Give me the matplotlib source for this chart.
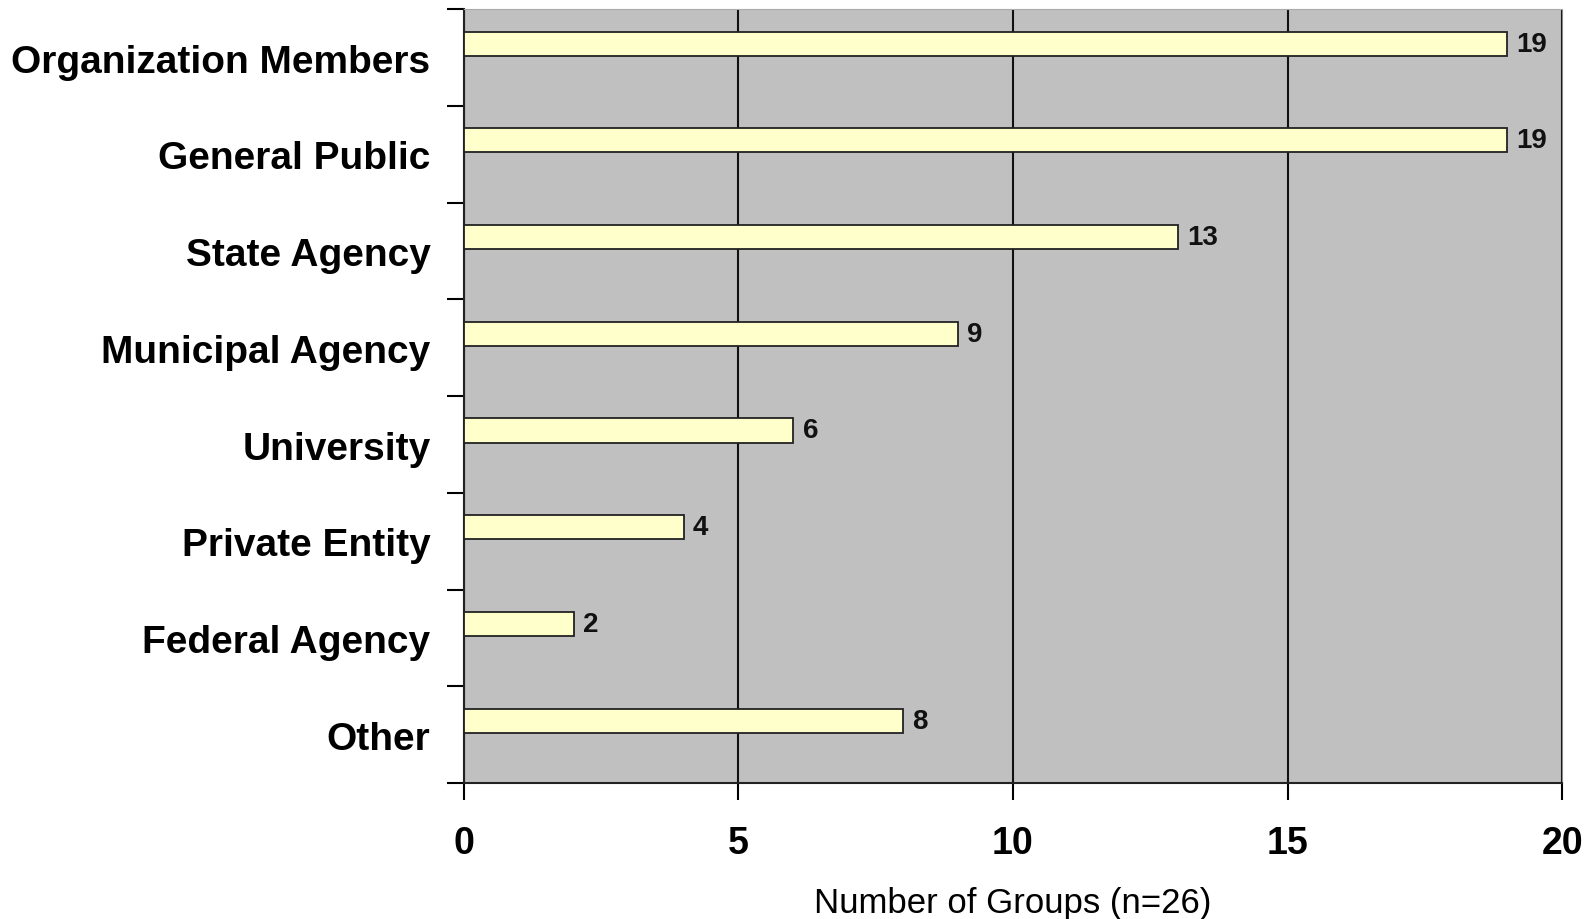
import matplotlib
matplotlib.use("Agg")
import matplotlib.pyplot as plt
import numpy as np

# Daten
categories = ['Organization Members', 'General Public', 'State Agency', 'Municipal Agency',
              'University', 'Private Entity', 'Federal Agency', 'Other']
counts = [19, 19, 13, 9, 6, 4, 2, 8]
xticks = [0, 5, 10, 15, 20]

plt.rcParams['font.family'] = ['Liberation Sans', 'DejaVu Sans']

fig = plt.figure(figsize=(15.94, 9.2), dpi=100)
ax = fig.add_axes([0.291, 0.1478, 0.689, 0.841])
ax.set_facecolor('#C0C0C0')

ypos = np.arange(len(categories))
# Balken sitzen etwas oberhalb der Kategoriemitte
bar_y = ypos - 0.145
ax.barh(bar_y, counts, height=0.25, color='#FFFFCC', edgecolor='#222222',
        linewidth=1.3, zorder=3)

for y, v in zip(bar_y, counts):
    ax.text(v + 0.17, y, str(v), va='center', ha='left', fontsize=20,
            fontweight='bold', color='#111111', zorder=4)

ax.set_xlim(0, 20)
ax.set_ylim(len(categories) - 0.5, -0.5)
ax.set_xticks(xticks)
ax.set_xticklabels([str(t) for t in xticks], fontsize=27, fontweight='bold')
ax.set_yticks([i - 0.5 for i in range(len(categories) + 1)])
ax.set_yticklabels([])
ax.set_yticks(ypos, minor=True)
ax.set_yticklabels(categories, minor=True, fontsize=28, fontweight='bold')
ax.tick_params(axis='y', which='minor', length=0, pad=24)
ax.tick_params(axis='y', which='major', direction='out', length=12, width=1.5)
ax.tick_params(axis='x', direction='out', length=12, width=1.5, pad=18)

ax.grid(axis='x', color='#111111', linewidth=1.5, zorder=1)
ax.set_axisbelow(True)

ax.spines['left'].set_color('#222222')
ax.spines['left'].set_linewidth(1.5)
ax.spines['bottom'].set_color('#222222')
ax.spines['bottom'].set_linewidth(1.5)
ax.spines['right'].set_color('#888888')
ax.spines['top'].set_color('#AAAAAA')

ax.set_xlabel('Number of Groups (n=26)', fontsize=25, labelpad=18)

fig.savefig('out.png', dpi=100)
